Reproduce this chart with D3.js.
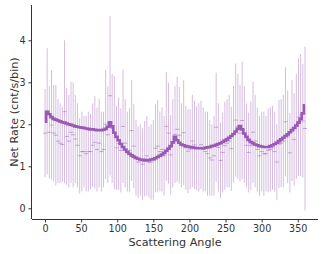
<!DOCTYPE html>
<html>
<head>
<meta charset="utf-8">
<script src="https://cdn.jsdelivr.net/npm/d3@7"></script>
<style>
  body { margin: 0; background: #fff; }
  text { font-family: "DejaVu Sans", sans-serif; fill: #333; }
</style>
</head>
<body>
<svg id="chart" width="324" height="254"></svg>
<script>
// angle bins, 3 degree spacing
var angles = d3.range(0, 361, 3)

// measured net rate per bin and its 1-sigma error
var rate = [1.79, 2.31, 1.81, 1.98, 1.79, 1.74, 1.60, 1.55, 1.52, 2.30, 1.71, 1.60, 1.81, 1.75, 1.65, 1.50,
  1.25, 1.35, 1.35, 1.30, 1.35, 1.35, 1.50, 1.57, 1.40, 1.55, 1.35, 1.40, 2.00, 1.75, 2.68, 1.90,
  1.80, 1.44, 1.54, 1.38, 1.95, 1.55, 1.35, 1.38, 1.85, 1.48, 1.20, 1.10, 1.15, 1.05, 1.18, 1.25,
  1.10, 1.10, 1.15, 1.43, 1.48, 1.35, 1.40, 1.25, 1.95, 1.79, 1.27, 1.55, 1.76, 1.88, 1.74, 1.50,
  1.80, 1.44, 1.36, 1.41, 1.60, 1.51, 1.43, 1.45, 1.51, 1.40, 1.35, 1.30, 1.20, 1.15, 1.25, 1.93,
  1.45, 1.14, 1.33, 1.49, 1.55, 1.60, 1.42, 1.76, 2.10, 1.95, 1.79, 2.09, 1.76, 1.50, 1.33, 1.49,
  1.81, 1.60, 1.40, 1.25, 1.35, 1.30, 1.30, 1.38, 1.40, 1.44, 1.35, 1.10, 1.53, 1.55, 1.60, 2.06,
  1.70, 1.32, 1.85, 1.64, 1.95, 2.17, 2.22, 2.08, 1.90]
var rateErr = [1.05, 1.50, 1.10, 1.30, 1.15, 1.20, 1.00, 0.95, 0.90, 1.70, 1.15, 1.10, 1.20, 1.25, 1.05, 1.00,
  0.90, 0.95, 0.85, 0.90, 0.95, 0.90, 1.00, 1.10, 1.00, 1.05, 0.95, 0.90, 1.30, 1.15, 1.90, 1.30,
  1.35, 1.00, 1.10, 1.00, 1.35, 1.05, 0.95, 1.00, 1.20, 1.00, 0.90, 0.85, 0.85, 0.85, 0.90, 0.95,
  0.85, 0.90, 0.95, 1.05, 1.10, 0.95, 1.00, 0.95, 1.30, 1.20, 0.95, 1.05, 1.15, 1.25, 1.15, 1.00,
  1.25, 1.00, 1.00, 0.95, 1.10, 1.05, 1.00, 1.05, 1.05, 1.00, 0.95, 1.00, 0.90, 0.85, 0.95, 1.30,
  1.05, 0.90, 0.95, 1.05, 1.05, 1.10, 1.00, 1.15, 1.35, 1.25, 1.15, 1.40, 1.15, 1.00, 0.95, 1.05,
  1.20, 1.10, 1.00, 0.95, 0.95, 1.00, 0.90, 1.00, 1.00, 1.00, 0.95, 0.90, 1.05, 1.05, 1.10, 1.30,
  1.10, 0.95, 1.20, 1.10, 1.25, 1.40, 1.45, 1.35, 1.95]

// model / mean curve
var model = [2.06, 2.30, 2.24, 2.17, 2.13, 2.11, 2.09, 2.07, 2.05, 2.04, 2.02, 2.00, 1.99, 1.97, 1.95, 1.94,
  1.93, 1.92, 1.91, 1.90, 1.89, 1.88, 1.88, 1.87, 1.86, 1.86, 1.86, 1.87, 1.89, 1.94, 2.05, 1.95,
  1.80, 1.70, 1.62, 1.53, 1.46, 1.40, 1.34, 1.30, 1.26, 1.23, 1.20, 1.18, 1.16, 1.15, 1.14, 1.14,
  1.15, 1.16, 1.17, 1.19, 1.22, 1.25, 1.28, 1.32, 1.37, 1.42, 1.48, 1.57, 1.70, 1.62, 1.56, 1.52,
  1.50, 1.48, 1.47, 1.46, 1.45, 1.44, 1.43, 1.43, 1.43, 1.43, 1.44, 1.45, 1.46, 1.48, 1.49, 1.51,
  1.53, 1.55, 1.58, 1.61, 1.64, 1.68, 1.72, 1.77, 1.83, 1.89, 1.96, 1.88, 1.78, 1.70, 1.63, 1.58,
  1.55, 1.52, 1.50, 1.48, 1.47, 1.46, 1.46, 1.46, 1.48, 1.50, 1.53, 1.56, 1.60, 1.64, 1.68, 1.72,
  1.76, 1.81, 1.86, 1.91, 1.97, 2.04, 2.13, 2.26, 2.45]

var xTicks = [0, 50, 100, 150, 200, 250, 300, 350]
var yTicks = [0, 1, 2, 3, 4]

var purple = "#9b59b6"
var svg = d3.select("#chart")

var x = d3.scaleLinear().domain([-18, 378]).range([32, 318])
var y = d3.scaleLinear().domain([-0.255, 4.84]).range([219, 5])

var pts = angles.map(function(a, i){ return {a: a, v: rate[i], e: rateErr[i], m: model[i]} })

// error bars
svg.append("g").selectAll("line")
    .data(pts)
    .enter()
    .append("line")
    .attr("x1", function(d){ return x(d.a) })
    .attr("x2", function(d){ return x(d.a) })
    .attr("y1", function(d){ return y(d.v - d.e) })
    .attr("y2", function(d){ return y(d.v + d.e) })
    .attr("stroke", purple)
    .attr("stroke-opacity", 0.4)
    .attr("stroke-width", 1)

// point markers ("_")
svg.append("g").selectAll("line")
    .data(pts)
    .enter()
    .append("line")
    .attr("x1", function(d){ return x(d.a) - 2 })
    .attr("x2", function(d){ return x(d.a) + 2 })
    .attr("y1", function(d){ return y(d.v) })
    .attr("y2", function(d){ return y(d.v) })
    .attr("stroke", purple)
    .attr("stroke-opacity", 0.5)
    .attr("stroke-width", 1)

// stepped model line
var line = d3.line()
    .x(function(d){ return x(d.a) })
    .y(function(d){ return y(d.m) })
    .curve(d3.curveStep)

svg.append("path")
    .datum(pts)
    .attr("d", line)
    .attr("fill", "none")
    .attr("stroke", purple)
    .attr("stroke-width", 2.6)

// axes
var xAxis = svg.append("g")
    .attr("transform", "translate(0,219)")
    .call(d3.axisBottom(x).tickValues(xTicks).tickFormat(d3.format("d")).tickSize(3.5).tickPadding(3))
var yAxis = svg.append("g")
    .attr("transform", "translate(32,0)")
    .call(d3.axisLeft(y).tickValues(yTicks).tickFormat(d3.format("d")).tickSize(3.5).tickPadding(3))

svg.selectAll(".domain").attr("stroke", "#333").attr("stroke-width", 1)
svg.selectAll(".tick line").attr("stroke", "#333")
svg.selectAll(".tick text")
    .style("font-family", "DejaVu Sans, sans-serif")
    .style("font-size", "9.6px")
    .attr("fill", "#333")
// plain spines, no end ticks
xAxis.select(".domain").attr("d", "M32,0.5H318")
yAxis.select(".domain").attr("d", "M-0.5,219V5")

svg.append("text")
    .attr("x", 175)
    .attr("y", 246)
    .attr("text-anchor", "middle")
    .style("font-size", "11.2px")
    .text("Scattering Angle")

svg.append("text")
    .attr("transform", "translate(18,112) rotate(-90)")
    .attr("text-anchor", "middle")
    .style("font-size", "11.2px")
    .text("Net Rate (cnt/s/bin)")
</script>
</body>
</html>
